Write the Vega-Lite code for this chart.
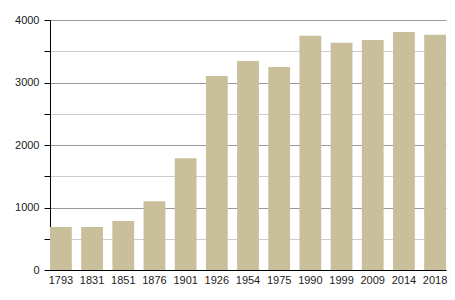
{
  "$schema": "https://vega.github.io/schema/vega-lite/v6.json",
  "width": 396,
  "height": 250,
  "autosize": {"type": "none"},
  "padding": {"left": 50, "top": 20, "right": 9, "bottom": 30},
  "background": "white",
  "data": {"values": [
    {"year": "1793", "pop": 690},
    {"year": "1831", "pop": 690},
    {"year": "1851", "pop": 785},
    {"year": "1876", "pop": 1100},
    {"year": "1901", "pop": 1790},
    {"year": "1926", "pop": 3104},
    {"year": "1954", "pop": 3344},
    {"year": "1975", "pop": 3248},
    {"year": "1990", "pop": 3749},
    {"year": "1999", "pop": 3637},
    {"year": "2009", "pop": 3680},
    {"year": "2014", "pop": 3808},
    {"year": "2018", "pop": 3765}
  ]},
  "config": {
    "view": {"stroke": null},
    "font": "Liberation Sans"
  },
  "mark": {"type": "bar", "color": "#c9c09b"},
  "encoding": {
    "x": {
      "field": "year", "type": "ordinal", "sort": null,
      "scale": {"paddingInner": 0.3, "paddingOuter": 0},
      "axis": {
        "title": null, "labelAngle": 0, "ticks": false,
        "domainColor": "#000", "domainWidth": 1,
        "labelFontSize": 11, "labelColor": "#222", "labelPadding": 4
      }
    },
    "y": {
      "field": "pop", "type": "quantitative",
      "scale": {"domain": [0, 4000], "nice": false},
      "axis": {
        "title": null,
        "values": [0, 500, 1000, 1500, 2000, 2500, 3000, 3500, 4000],
        "labelExpr": "datum.value % 1000 === 0 ? datum.value : ''",
        "grid": true,
        "gridColor": {"condition": {"test": "datum.value % 1000 === 0", "value": "#999999"}, "value": "#cccccc"},
        "gridWidth": 1,
        "domainColor": "#000", "domainWidth": 1,
        "tickColor": "#000", "tickSize": 6,
        "labelFontSize": 11, "labelColor": "#222", "labelPadding": 5
      }
    }
  }
}
